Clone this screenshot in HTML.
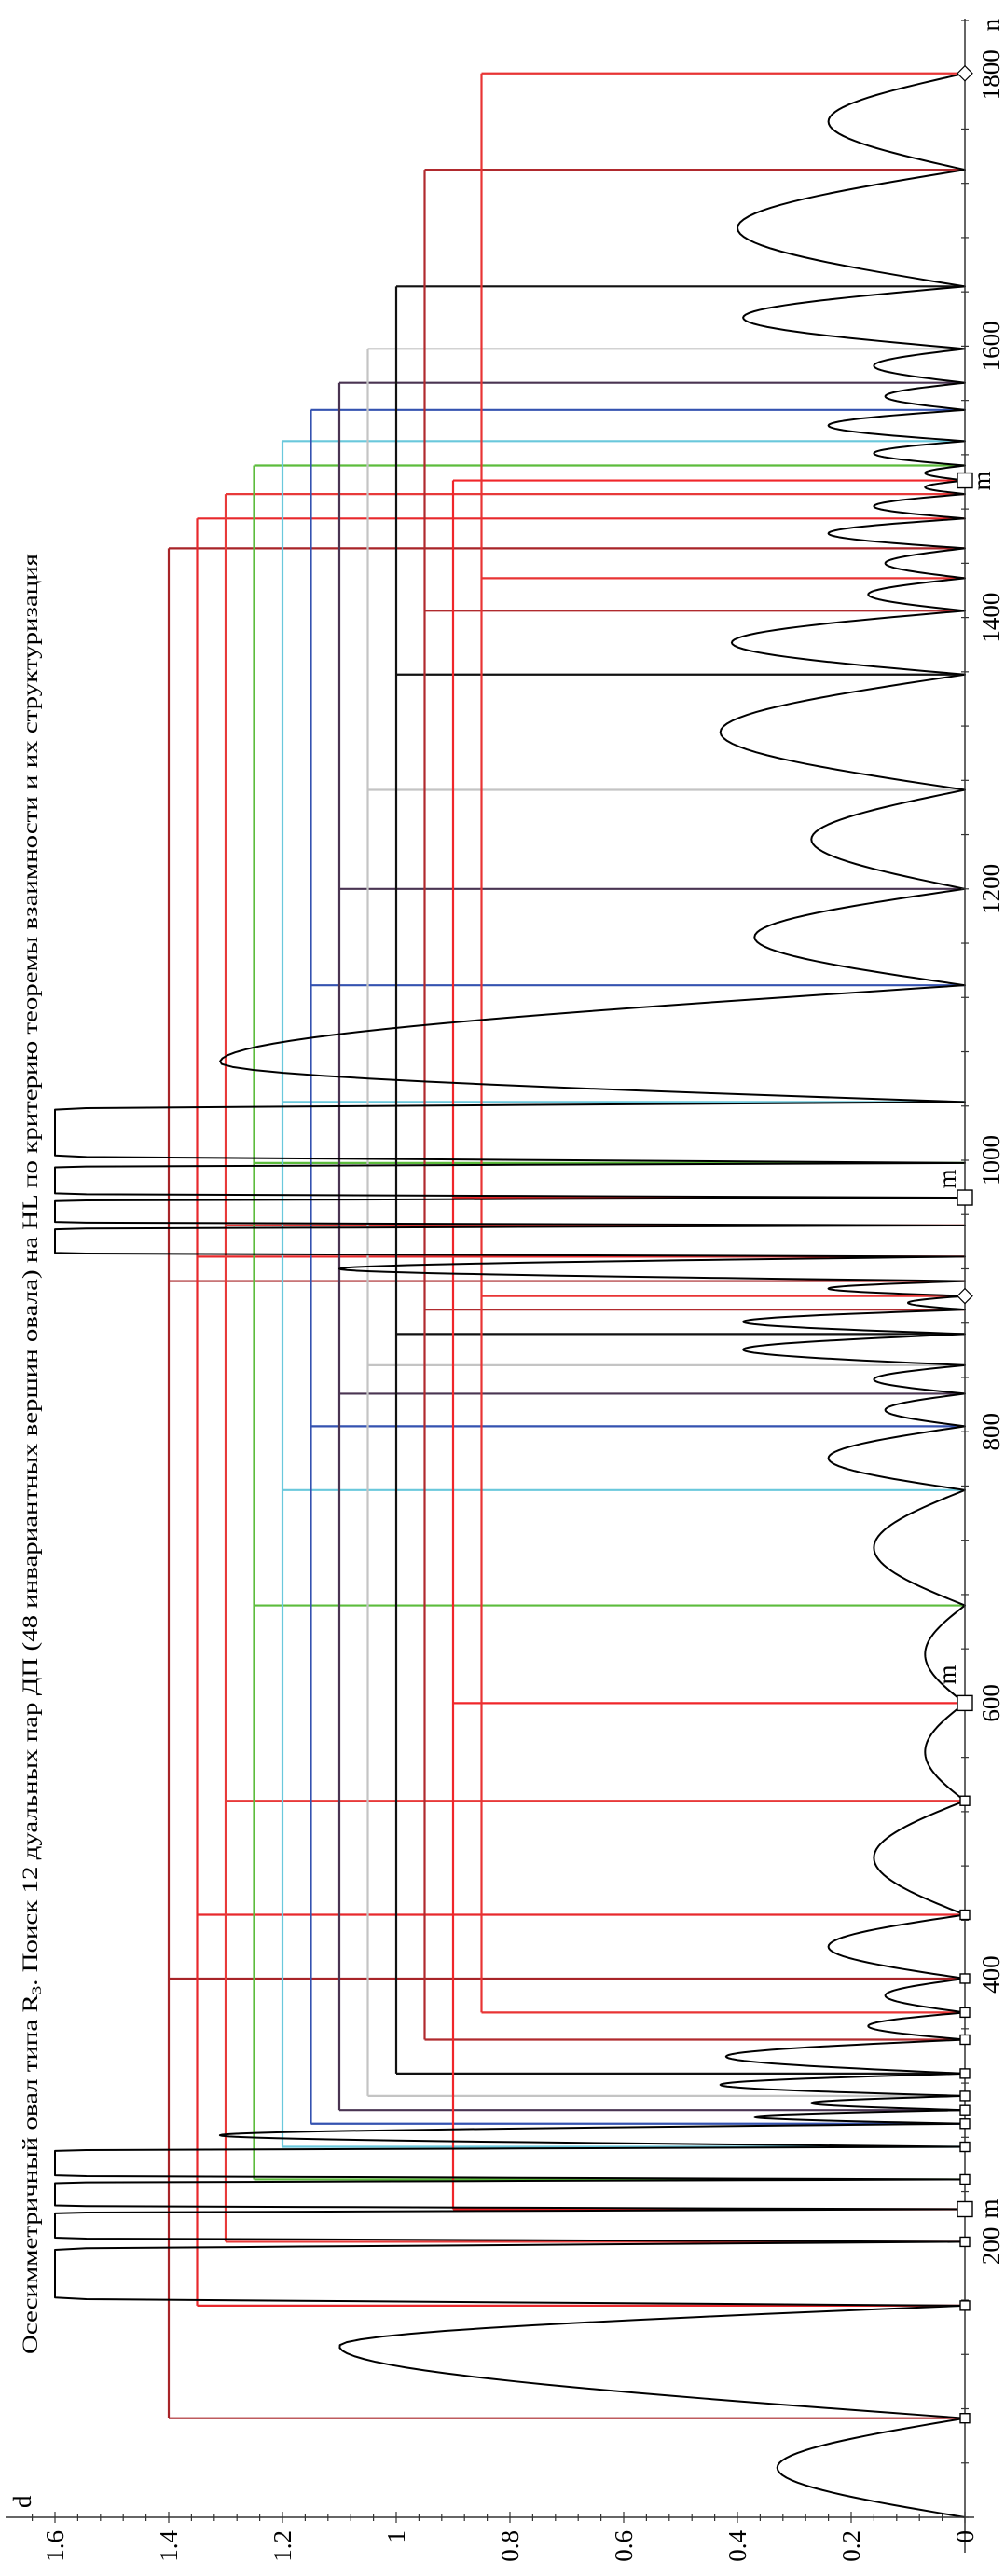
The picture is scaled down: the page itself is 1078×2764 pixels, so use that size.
<!DOCTYPE html>
<html><head><meta charset="utf-8"><style>
html,body{margin:0;padding:0;background:#fff;}
svg{display:block;font-family:"Liberation Serif","DejaVu Serif",serif;}
</style></head><body>
<svg id="chart" width="1078" height="2764" viewBox="0 0 1078 2764" xmlns="http://www.w3.org/2000/svg">
<g id="rot" transform="matrix(0,-1,1,0,0,2764)">
  <text x="238" y="40" font-size="23" textLength="1932" lengthAdjust="spacingAndGlyphs">Осесимметричный овал типа R<tspan font-size="15" dy="4">3</tspan><tspan dy="-4">.  Поиск 12  дуальных пар ДП (48 инвариантных вершин овала) на HL по критерию теоремы взаимности и их структуризация</tspan></text>
  <g id="brackets"></g>
  <g id="curve"></g>
  <g id="axes"></g>
  <g id="markers"></g>
</g>
</svg>
<script>
// ---- data ----
const pairHeights = [1.4, 1.35, 1.3, 1.25, 1.2, 1.15, 1.1, 1.05, 1.0, 0.95, 0.9, 0.85];
const pairN1 = [73, 156, 203, 249, 273, 290, 300, 310.5, 327, 352, 227, 372];
const pairN2 = [397, 444, 528, 672, 757, 804, 828, 849, 872, 890, 600, 900];
const pairN3 = [911, 929, 952, 998, 1043, 1129, 1200, 1273, 1358, 1405, 972.5, 1429];
const pairN4 = [1451, 1473, 1491, 1512, 1530, 1553, 1573, 1598, 1644, 1730, 1501, 1801];
const pairColors = ["#a82428","#e8282c","#e83a3a","#5cbc3c","#6ac8dc","#3452b0","#4a3452","#c4c4c4","#111111","#b02a2e","#f0262a","#e83434"];
const roots = [0,73,156,203,227,249,273,290,300,310.5,327,352,372,397,444,528,600,672,757,804,828,849,872,890,900,911,929,952,972.5,998,1043,1129,1200,1273,1358,1405,1429,1451,1473,1491,1501,1512,1530,1553,1573,1598,1644,1730,1801];
const peaks = [0.33,1.10,5,5,5,5,1.31,0.37,0.27,0.43,0.42,0.17,0.14,0.24,0.16,0.07,0.07,0.16,0.24,0.14,0.16,0.39,0.39,0.10,0.24,1.10,5,5,5,5,1.31,0.37,0.27,0.43,0.41,0.17,0.14,0.24,0.16,0.07,0.07,0.16,0.24,0.14,0.16,0.39,0.40,0.24];
const peakPos = {1:0.64, 30:0.34};
const squareMarks = [73,156,203,249,273,290,300,310.5,327,352,372,397,444,528];
const bigSquareMarks = [227,600,972.5,1501];
const diamondMarks = [900,1801];
const nTicks = [200,400,600,800,1000,1200,1400,1600,1800];
const dTicks = [0,0.2,0.4,0.6,0.8,1,1.2,1.4,1.6];
const dTickLabels = ["0","0.2","0.4","0.6","0.8","1","1.2","1.4","1.6"];

// ---- scales (rotated frame: u along n, v along d) ----
const U = n => 63 + 1.456*n;
const V = d => 1035 - 610*d;
const NS = "http://www.w3.org/2000/svg";
function mk(tag, parent, attrs){const e=document.createElementNS(NS,tag);for(const k in attrs)e.setAttribute(k,attrs[k]);parent.appendChild(e);return e;}

// brackets
const gb = document.getElementById('brackets');
pairHeights.forEach((h,i)=>{
  const ns=[pairN1[i],pairN2[i],pairN3[i],pairN4[i]];
  ns.forEach(n=>{
    const l=mk('line',gb,{x1:U(n),y1:V(0),x2:U(n),y2:V(h),stroke:pairColors[i],'stroke-width':2.2});
    
    
  });
  const c=mk('line',gb,{x1:U(Math.min(...ns)),y1:V(h),x2:U(Math.max(...ns)),y2:V(h),stroke:pairColors[i],'stroke-width':2.2});
  
  
});

// curve
let dstr='';
for(let i=0;i<roots.length-1;i++){
  const a=roots[i],b=roots[i+1],h=peaks[i],p=peakPos[i]||0.5;
  const N=40;
  for(let k=0;k<=N;k++){
    const t=k/N;
    const s = t<p ? t/p*0.5 : 0.5+(t-p)/(1-p)*0.5;
    let d=h*Math.sin(Math.PI*s);
    if(d>1.6)d=1.6;
    dstr += (i===0&&k===0?'M':'L')+U(a+(b-a)*t).toFixed(2)+','+V(d).toFixed(2);
  }
}
const cp=mk('path',document.getElementById('curve'),{d:dstr,fill:'none',stroke:'#000','stroke-width':2,'stroke-linejoin':'round'});



// axes
const ga=document.getElementById('axes');
const ax1=mk('line',ga,{x1:U(0),y1:V(0)+10,x2:U(0),y2:6,stroke:'#333','stroke-width':1.5});


const ax2=mk('line',ga,{x1:U(0)-38,y1:V(0),x2:2744,y2:V(0),stroke:'#333','stroke-width':1.5});


for(let d=0;d<=1.66;d+=0.04){
  const major=Math.abs(d/0.2-Math.round(d/0.2))<0.01;
  mk('line',ga,{x1:U(0)-(major?6:4),y1:V(d),x2:U(0)+(major?6:4),y2:V(d),stroke:'#333','stroke-width':1.2});
}
for(let n=0;n<=1840;n+=40){
  mk('line',ga,{x1:U(n),y1:V(0)-4,x2:U(n),y2:V(0)+4,stroke:'#333','stroke-width':1.2});
}
dTicks.forEach((d,i)=>{
  const t=mk('text',ga,{x:U(0)-14,y:V(d)+9,'font-size':27,'text-anchor':'end'});
  t.textContent=dTickLabels[i];
  
  
});
nTicks.forEach(n=>{
  const t=mk('text',ga,{x:U(n),y:V(0)+37,'font-size':27,'text-anchor':'middle'});
  t.textContent=String(n);
  
  
});
const dl=mk('text',ga,{x:U(0)+10,y:33,'font-size':27});dl.textContent='d';


const nl=mk('text',ga,{x:2744,y:1072,'font-size':27,'text-anchor':'end'});nl.textContent='n';


[[394,1070],[967,1025],[1499,1025],[2248,1062]].forEach(p=>{
  const m=mk('text',ga,{x:p[0],y:p[1],'font-size':27,'text-anchor':'middle'});m.textContent='m';
  
  
});

// markers
const gm=document.getElementById('markers');
squareMarks.forEach(n=>{
  const r=mk('rect',gm,{x:U(n)-5,y:V(0)-5,width:10,height:10,fill:'#fff',stroke:'#000','stroke-width':1.4});
  
  
});
bigSquareMarks.forEach(n=>{
  const r=mk('rect',gm,{x:U(n)-8,y:V(0)-8,width:16,height:16,fill:'#fff',stroke:'#000','stroke-width':1.4});
  
  
});
diamondMarks.forEach(n=>{
  const x=U(n),y=V(0);
  const r=mk('polygon',gm,{points:`${x-8},${y} ${x},${y-8} ${x+8},${y} ${x},${y+8}`,fill:'#fff',stroke:'#000','stroke-width':1.2});
  
  
});
</script>
</body></html>
